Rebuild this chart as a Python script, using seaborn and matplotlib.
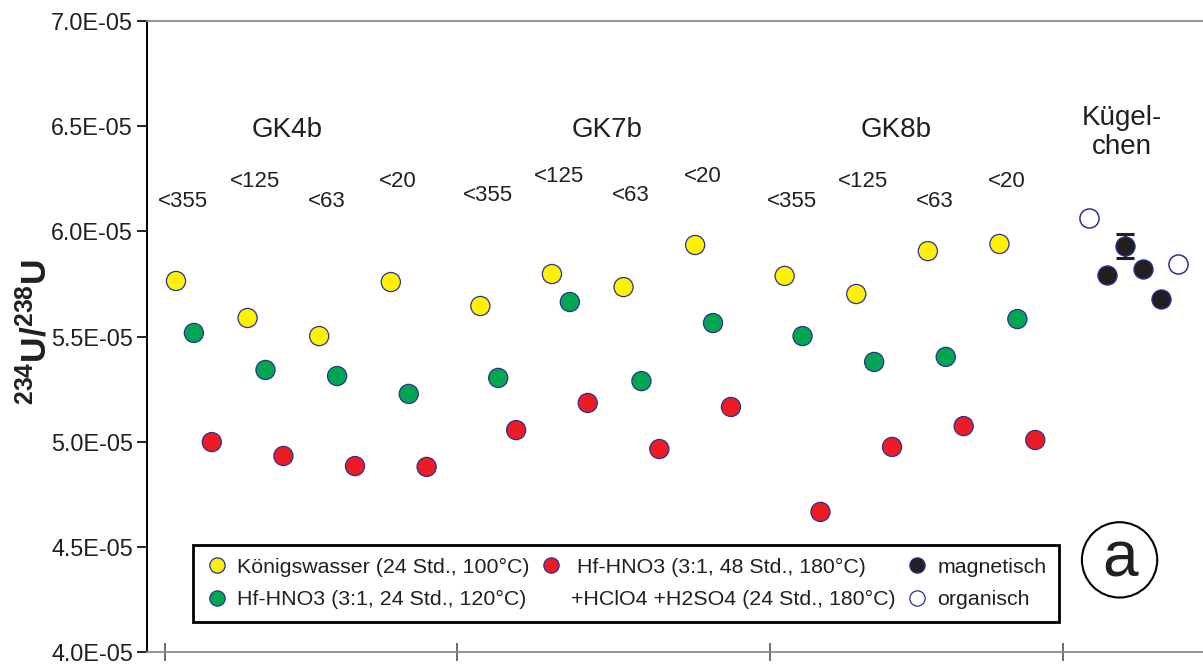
import numpy as np
import pandas as pd
import matplotlib
matplotlib.use("Agg")
import matplotlib.pyplot as plt
from matplotlib.lines import Line2D
from matplotlib.ticker import FormatStrFormatter
import seaborn as sns

# ---- data (234U/238U ratios, in units of 1E-05) ----
groups = ["GK4b", "GK7b", "GK8b"]
sizes = ["<355", "<125", "<63", "<20"]
koenigswasser = [5.764, 5.588, 5.502, 5.759,
                 5.645, 5.797, 5.735, 5.935,
                 5.788, 5.702, 5.906, 5.940]
hf_hno3 = [5.517, 5.341, 5.312, 5.227,
           5.303, 5.664, 5.288, 5.564,
           5.502, 5.379, 5.403, 5.583]
hf_hno3_hclo4 = [4.998, 4.932, 4.884, 4.880,
                 5.055, 5.184, 4.965, 5.165,
                 4.666, 4.975, 5.074, 5.008]
kuegelchen_label = "Kügel-\nchen"
organisch = [6.063, 5.845]
magnetisch = [5.792, 5.930, 5.821, 5.678]
magnetisch_err = [0.0, 0.057, 0.0, 0.0]

series_names = ["Königswasser (24 Std., 100°C)",
                "Hf-HNO3 (3:1, 24 Std., 120°C)",
                "Hf-HNO3 (3:1, 48 Std., 180°C)"]
series_extra = "+HClO4 +H2SO4 (24 Std., 180°C)"
series_values = [koenigswasser, hf_hno3, hf_hno3_hclo4]
colors = ["#FFF200", "#00A651", "#ED1C24"]
edge = "#2E3192"
black_fill = "#231F20"
scale = 1e-5

# ---- layout of the x positions ----
slot_step, group_step = 4, 17
rows = []
for s_idx, (name, vals) in enumerate(zip(series_names, series_values)):
    for i, v in enumerate(vals):
        g, k = divmod(i, len(sizes))
        rows.append({"x": g * group_step + k * slot_step + s_idx,
                     "ratio": v * scale, "series": name})
df = pd.DataFrame(rows)

kx0 = len(groups) * group_step
org_x = [kx0, kx0 + 5]
mag_x = np.array([kx0 + 1 + i for i in range(len(magnetisch))])
mag_y = np.array(magnetisch) * scale
mag_e = np.array(magnetisch_err) * scale
has_err = mag_e > 0

sns.set_theme(style="white")
plt.rcParams["font.family"] = ["Liberation Sans", "DejaVu Sans"]
plt.rcParams["mathtext.fontset"] = "custom"
plt.rcParams["mathtext.rm"] = "Liberation Sans"
plt.rcParams["mathtext.bf"] = "Liberation Sans:bold"
plt.rcParams["text.color"] = "#231F20"

fig = plt.figure(figsize=(12.03, 6.64), dpi=100)
ax = fig.add_axes([147 / 1203, 1 - 652 / 664, 1 - 147 / 1203, (652 - 21) / 664])

sns.scatterplot(data=df, x="x", y="ratio", hue="series", hue_order=series_names,
                palette=colors, s=190, edgecolor=edge, linewidth=0.9,
                legend=False, ax=ax, zorder=3)

ax.scatter(org_x, np.array(organisch) * scale, s=190, facecolor="white",
           edgecolor=edge, linewidth=1.1, zorder=3)
ax.errorbar(mag_x[has_err], mag_y[has_err], yerr=mag_e[has_err], fmt="none",
            ecolor="#231F20", elinewidth=2, capsize=6.5, capthick=2.2, zorder=2)
ax.scatter(mag_x, mag_y, s=190, facecolor=black_fill,
           edgecolor=edge, linewidth=0.9, zorder=3)

# ---- axes ----
ax.set_xlim(-1.62, 57.37)
ax.set_ylim(4.0e-5, 7.0e-5)
ax.set_yticks(np.arange(4.0e-5, 7.01e-5, 0.5e-5))
ax.yaxis.set_major_formatter(FormatStrFormatter("%.1E"))
ax.set_xticks([-0.6, 15.68, 33.18, 49.55])
ax.set_xticklabels([])
ax.tick_params(axis="y", direction="out", length=7, width=1.2, color="black",
               labelsize=16.8, labelcolor="#231F20", pad=3, left=True)
ax.tick_params(axis="x", direction="inout", length=13, width=1.2,
               color="#555555", bottom=True)
ax.spines["left"].set_color("black")
ax.spines["left"].set_linewidth(1.4)
for side in ("top", "bottom"):
    ax.spines[side].set_color("#8a8a8a")
    ax.spines[side].set_linewidth(1.3)
ax.spines["right"].set_visible(False)
ax.set_xlabel("")
ax.set_ylabel("")

fig.text(0.029, 0.50, r"$\mathbf{^{234}U/^{238}U}$", rotation=90,
         ha="center", va="center", fontsize=25.5)

# ---- group and size labels ----
group_label_x = [6.2, 24.1, 40.2]
for gx, name in zip(group_label_x, groups):
    ax.text(gx, 6.482e-5, name, ha="center", va="center", fontsize=20)
ax.text(52.85, 6.47e-5, kuegelchen_label, ha="center", va="center",
        fontsize=20, linespacing=1.15)

size_label_y = [[6.144, 6.239], [6.17, 6.263], [6.144, 6.239]]
for g in range(len(groups)):
    for k, lab in enumerate(sizes):
        ax.text(g * group_step + k * slot_step + 0.4,
                size_label_y[g][k % 2] * scale, lab,
                ha="center", va="center", fontsize=16)

# ---- legend ----
def dot(fc, ec=edge):
    return Line2D([], [], ls="", marker="o", markersize=11,
                  markerfacecolor=fc, markeredgecolor=ec, markeredgewidth=0.9)

handles = [dot(colors[0]), dot(colors[1]), dot(colors[2]),
           Line2D([], [], ls="", marker=None),
           dot(black_fill), dot("white")]
labels = [series_names[0], series_names[1], " " + series_names[2],
          series_extra, "magnetisch", "organisch"]
leg = ax.legend(handles, labels, ncol=3, loc="upper left",
                bbox_to_anchor=(0.0436, 0.1696), fontsize=15.4,
                frameon=True, fancybox=False, edgecolor="black", framealpha=1,
                borderpad=0.6, labelspacing=0.62, handletextpad=0.45,
                handlelength=1.0, columnspacing=0.5, borderaxespad=0)
leg.get_frame().set_linewidth(2.0)

# ---- panel letter ----
ax.text(0.921, 0.146, "a", transform=ax.transAxes, ha="center", va="center",
        fontsize=46,
        bbox=dict(boxstyle="circle,pad=0.12", fc="white", ec="black", lw=1.5))

fig.savefig("out.png", dpi=100)
